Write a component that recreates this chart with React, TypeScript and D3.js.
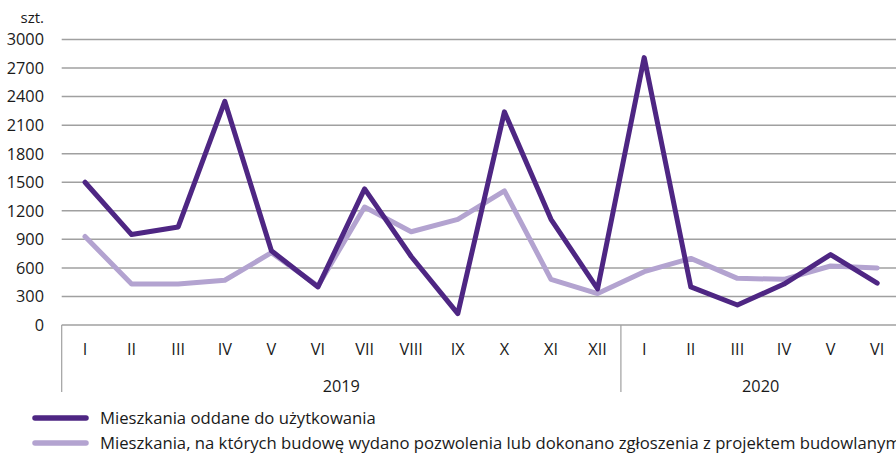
import { useMemo } from 'react'
import * as d3 from 'd3'

const months = ['I', 'II', 'III', 'IV', 'V', 'VI', 'VII', 'VIII', 'IX', 'X', 'XI', 'XII', 'I', 'II', 'III', 'IV', 'V', 'VI']
const years = [
  { label: '2019', start: 0, end: 12 },
  { label: '2020', start: 12, end: 18 },
]
const oddane = [1500, 950, 1030, 2350, 780, 400, 1430, 720, 120, 2240, 1110, 380, 2810, 400, 210, 430, 740, 440]
const pozwolenia = [930, 430, 430, 470, 760, 410, 1240, 980, 1110, 1410, 480, 330, 560, 700, 490, 480, 620, 600]
const yTicks = [0, 300, 600, 900, 1200, 1500, 1800, 2100, 2400, 2700, 3000]

const series = [
  { name: 'Mieszkania oddane do użytkowania', values: oddane, color: '#4e2683' },
  { name: 'Mieszkania, na których budowę wydano pozwolenia lub dokonano zgłoszenia z projektem budowlanym', values: pozwolenia, color: '#b3a3d0' },
]

const W = 896
const H = 453
const FONT = '"Open Sans", sans-serif'

export default function App() {
  const margin = { left: 61.7, top: 39.5, bottom: 325 }
  const bandW = 46.6

  const x = useMemo(
    () => d3.scaleBand<number>().domain(d3.range(months.length)).range([margin.left, margin.left + bandW * months.length]).padding(0),
    []
  )
  const y = useMemo(() => d3.scaleLinear().domain([0, 3000]).range([margin.bottom, margin.top]), [])
  const cx = (i: number) => (x(i) ?? 0) + x.bandwidth() / 2

  const line = d3.line<number>().x((_, i) => cx(i)).y(d => y(d))

  const axisBottom = y(0)
  const axisEnd = axisBottom + 67
  const edge = (i: number) => (i === months.length ? x.range()[1] : (x(i) ?? 0))

  return (
    <svg width={W} height={H} style={{ position: 'absolute', left: 0, top: 0, background: '#fff' }} fontFamily={FONT}>
      {/* grid + y ticks */}
      {yTicks.map(t => (
        <g key={t}>
          <line x1={margin.left} x2={W + 10} y1={y(t)} y2={y(t)} stroke="#a0a0a0" strokeWidth={1.5} />
          <text x={44} y={y(t)} dy="0.36em" textAnchor="end" fontSize={16.3} fill="#1a1a1a">{t}</text>
        </g>
      ))}
      <text x={44} y={y(3000) - 22} dy="0.36em" textAnchor="end" fontSize={15} fill="#1a1a1a">szt.</text>

      {/* category axis */}
      {[0, 12, 18].map(i => (
        <line key={i} x1={edge(i)} x2={edge(i)} y1={axisBottom} y2={axisEnd} stroke="#a0a0a0" strokeWidth={1.2} />
      ))}
      {months.map((m, i) => (
        <text key={i} x={cx(i)} y={axisBottom + 24} dy="0.36em" textAnchor="middle" fontSize={16.3} fill="#1a1a1a">{m}</text>
      ))}
      {years.map(yr => (
        <text key={yr.label} x={(edge(yr.start) + edge(yr.end)) / 2} y={axisBottom + 61} dy="0.36em" textAnchor="middle" fontSize={16.3} fill="#1a1a1a">{yr.label}</text>
      ))}

      {/* lines, light one underneath */}
      {[...series].reverse().map(s => (
        <path key={s.name} d={line(s.values) ?? ''} fill="none" stroke={s.color} strokeWidth={5} strokeLinejoin="round" strokeLinecap="round" />
      ))}

      {/* legend */}
      {series.map((s, i) => (
        <g key={s.name} transform={`translate(0, ${418 + i * 25})`}>
          <line x1={35} x2={86} y1={0} y2={0} stroke={s.color} strokeWidth={5.5} strokeLinecap="round" />
          <text x={100} y={0} dy="0.36em" fontSize={16.7} fill="#1a1a1a">{s.name}</text>
        </g>
      ))}
    </svg>
  )
}
